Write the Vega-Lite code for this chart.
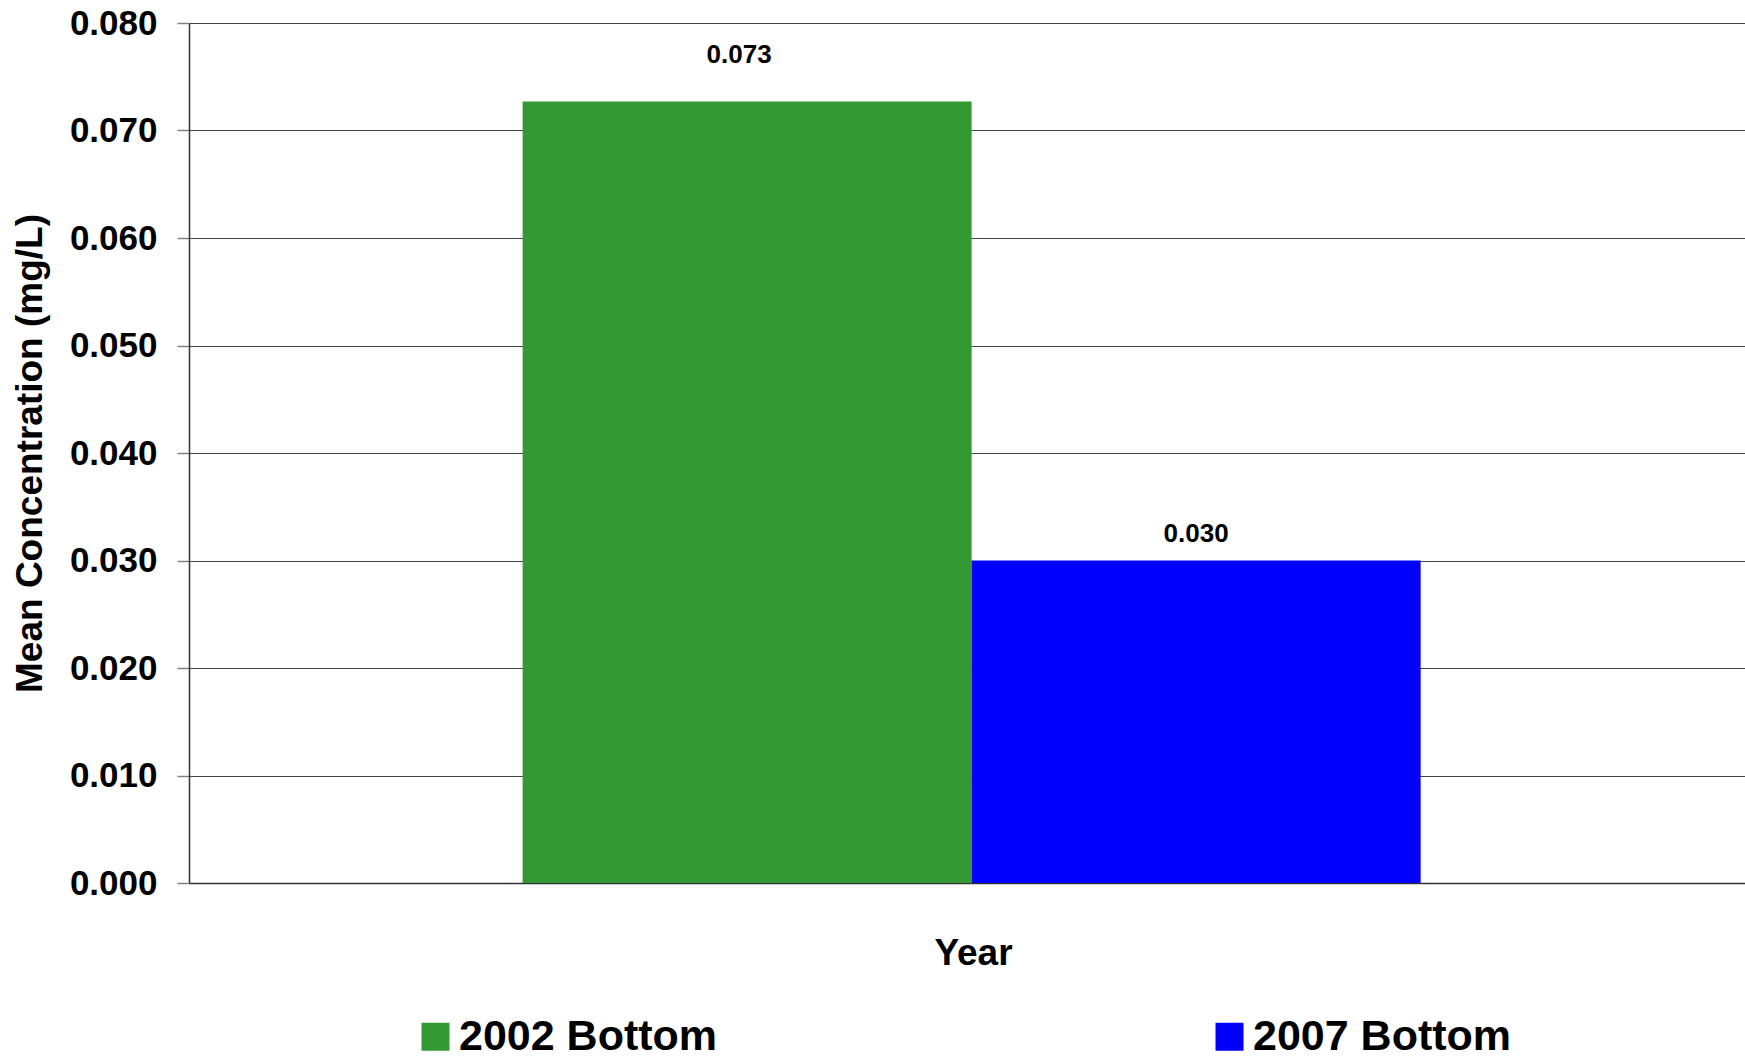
{
  "$schema": "https://vega.github.io/schema/vega-lite/v6.json",
  "width": 1556,
  "height": 860,
  "autosize": {"type": "none"},
  "padding": {"left": 189, "top": 23, "right": 0, "bottom": 174},
  "background": "white",
  "config": {"view": {"stroke": null}},
  "data": {
    "values": [
      {"series": "2002 Bottom", "value": 0.0727},
      {"series": "2007 Bottom", "value": 0.0300}
    ]
  },
  "encoding": {
    "x": {
      "field": "series",
      "type": "nominal",
      "sort": null,
      "scale": {"paddingInner": 0, "paddingOuter": 0.7327, "align": 0.507},
      "axis": {
        "title": "Year",
        "labels": false,
        "ticks": false,
        "grid": false,
        "domain": true,
        "domainColor": "#333333",
        "domainWidth": 1.5,
        "titleFont": "Liberation Sans",
        "titleFontSize": 37,
        "titleFontWeight": "bold",
        "titleColor": "black",
        "titleX": 784,
        "titleY": 81,
        "titleBaseline": "alphabetic"
      }
    },
    "y": {
      "field": "value",
      "type": "quantitative",
      "scale": {"domain": [0, 0.08], "nice": false},
      "axis": {
        "title": "Mean Concentration (mg/L)",
        "values": [0, 0.01, 0.02, 0.03, 0.04, 0.05, 0.06, 0.07, 0.08],
        "format": ".3f",
        "labelFont": "Liberation Sans",
        "labelFontSize": 35,
        "labelFontWeight": "bold",
        "labelColor": "black",
        "labelPadding": 20,
        "tickSize": 12,
        "tickColor": "#808080",
        "tickWidth": 1.5,
        "domainColor": "#333333",
        "domainWidth": 1.5,
        "grid": true,
        "gridColor": "#444444",
        "gridWidth": 1.2,
        "titleFont": "Liberation Sans",
        "titleFontSize": 37,
        "titleFontWeight": "bold",
        "titleColor": "black",
        "titlePadding": 20
      }
    }
  },
  "layer": [
    {
      "mark": {"type": "bar"},
      "encoding": {
        "color": {
          "field": "series",
          "type": "nominal",
          "sort": null,
          "scale": {"range": ["#339933", "#0000FF"]},
          "legend": {
            "title": null,
            "orient": "none",
            "legendX": 225,
            "legendY": 992,
            "direction": "horizontal",
            "columnPadding": 490,
            "padding": 0,
            "labelFont": "Liberation Sans",
            "labelFontSize": 43,
            "labelFontWeight": "bold",
            "labelColor": "black",
            "labelLimit": 0,
            "labelOffset": 2,
            "symbolType": "square",
            "symbolSize": 784,
            "symbolStrokeWidth": 0,
            "symbolOpacity": 1
          }
        }
      }
    },
    {
      "transform": [{"filter": "datum.series === '2002 Bottom'"}],
      "mark": {
        "type": "text",
        "baseline": "alphabetic",
        "dy": -38,
        "dx": -8,
        "font": "Liberation Sans",
        "fontSize": 26,
        "fontWeight": "bold",
        "color": "black"
      },
      "encoding": {
        "text": {"field": "value", "type": "quantitative", "format": ".3f"}
      }
    },
    {
      "transform": [{"filter": "datum.series === '2007 Bottom'"}],
      "mark": {
        "type": "text",
        "baseline": "alphabetic",
        "dy": -19,
        "font": "Liberation Sans",
        "fontSize": 26,
        "fontWeight": "bold",
        "color": "black"
      },
      "encoding": {
        "text": {"field": "value", "type": "quantitative", "format": ".3f"}
      }
    }
  ]
}
